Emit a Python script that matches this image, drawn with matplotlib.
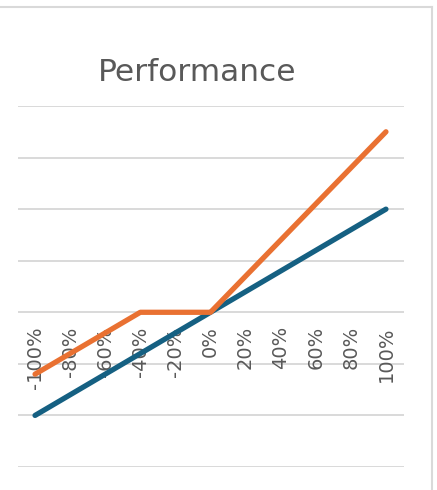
import matplotlib.pyplot as plt
from matplotlib.lines import Line2D

labels = ['-100%', '-80%', '-60%', '-40%', '-20%', '0%', '20%', '40%', '60%', '80%', '100%']
underlying = [-1.0, -0.8, -0.6, -0.4, -0.2, 0.0, 0.2, 0.4, 0.6, 0.8, 1.0]
note = [-0.6, -0.4, -0.2, 0.0, 0.0, 0.0, 0.35, 0.7, 1.05, 1.4, 1.75]

blue = '#156082'
orange = '#e97132'
grey_txt = '#595959'
grid_col = '#d9d9d9'

fig = plt.figure(figsize=(4.37, 4.90), dpi=100)
ax = fig.add_axes([17.5 / 437, 23 / 490, 386 / 437, 361 / 490])

x = list(range(len(labels)))
ax.plot(x, underlying, color=blue, lw=3.8, solid_capstyle='round', solid_joinstyle='round', zorder=3)
ax.plot(x, note, color=orange, lw=3.8, solid_capstyle='round', solid_joinstyle='round', zorder=3)

ax.set_xlim(-0.5, len(labels) - 0.5)
ax.set_ylim(-1.5, 2.0)
for g in [-1.5, -1.0, -0.5, 0.0, 0.5, 1.0, 1.5, 2.0]:
    ax.axhline(g, color=grid_col, lw=1.4, zorder=1)

for s in ['left', 'right', 'top']:
    ax.spines[s].set_visible(False)
ax.spines['bottom'].set_position(('data', 0))
ax.spines['bottom'].set_visible(False)
ax.set_yticks([])
ax.set_xticks(x)
ax.set_xticklabels(labels, rotation=90, fontsize=14, color=grey_txt)
ax.tick_params(axis='x', length=0, pad=10)
ax.patch.set_alpha(0)

fig.text(197.5 / 437, 1 - 81 / 490, 'Performance', ha='center', va='baseline',
         fontsize=22.5, color=grey_txt)

# chart border
fig.add_artist(Line2D([0, 432 / 437], [1 - 7 / 490, 1 - 7 / 490], color=grid_col, lw=1.5,
                      transform=fig.transFigure))
fig.add_artist(Line2D([432 / 437, 432 / 437], [0, 1 - 7 / 490], color=grid_col, lw=1.5,
                      transform=fig.transFigure))

fig.savefig('out.png', dpi=100)
